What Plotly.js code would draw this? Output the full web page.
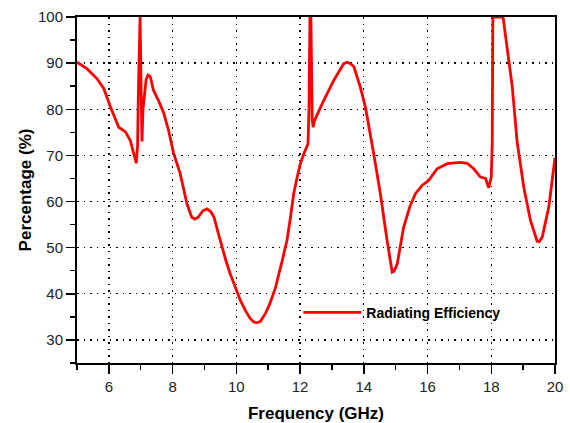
<!DOCTYPE html>
<html>
<head>
<meta charset="utf-8">
<script src="https://cdn.plot.ly/plotly-3.0.1.min.js"></script>
<style>html,body{margin:0;padding:0;background:#fff;}#chart{width:570px;height:423px;}</style>
</head>
<body>
<div id="chart"></div>
<script>
const freq = [5.00,5.31,5.63,5.84,6.05,6.31,6.52,6.67,6.86,6.90,6.93,6.96,6.98,7.01,7.04,7.07,7.11,7.17,7.23,7.30,7.40,7.55,7.72,7.87,8.03,8.24,8.45,8.60,8.70,8.80,8.95,9.08,9.20,9.30,9.42,9.55,9.68,9.81,9.97,10.13,10.29,10.44,10.55,10.63,10.75,10.91,11.05,11.23,11.44,11.59,11.70,11.80,11.91,12.01,12.12,12.25,12.28,12.31,12.34,12.36,12.38,12.41,12.45,12.74,13.06,13.37,13.48,13.60,13.69,13.89,14.05,14.31,14.52,14.73,14.89,14.95,15.05,15.25,15.45,15.62,15.83,16.04,16.30,16.62,17.03,17.24,17.45,17.66,17.82,17.92,18.00,18.03,18.05,18.37,18.50,18.66,18.81,19.02,19.23,19.44,19.50,19.60,19.81,20.00];
const efficiency = [90.2,88.8,86.6,84.5,80.5,76.1,75.1,73.3,68.3,72,85,100,100,85,73,80,83,86.5,87.4,87.1,84.1,82,79.2,75.5,70.5,66.0,59.5,56.6,56.2,56.6,58.0,58.4,57.8,56.6,53.5,50.1,47,44.3,41.2,38.5,36.3,34.6,33.9,33.7,34.0,35.7,37.8,41.4,47.2,51.6,56.6,61.7,65.3,68.2,70.4,72.5,80,100,100,85,78,76.1,77.5,81.9,86.3,89.9,90.2,89.8,89.2,84.8,80.5,70.4,61.7,51.6,44.7,44.9,46.5,54.4,59,61.7,63.5,64.6,67.1,68.2,68.5,68.3,67.1,65.3,65.0,63.0,65.3,72.5,100,100,92.8,84.8,73,63.1,55.9,51.4,51.3,52.3,59,69.5];
const seriesName = "Radiating Efficiency";
const xTitle = "Frequency (GHz)";
const yTitle = "Percentage (%)";

const fontFam = "Arial, 'Liberation Sans', sans-serif";
const data = [{
  x: freq, y: efficiency, type: 'scatter', mode: 'lines', name: seriesName,
  line: {color: '#ff0000', width: 2.8}
}];
const axisCommon = {
  showline: true, linecolor: '#000', linewidth: 2, mirror: true,
  ticks: 'outside', ticklen: 9, tickwidth: 1.5, tickcolor: '#000',
  showgrid: true, gridcolor: '#000', gridwidth: 1.3, griddash: '1.5px,5px',
  zeroline: false, tickfont: {family: fontFam, size: 15, color: '#222'}
};
const layout = {
  width: 570, height: 423,
  margin: {l: 77, r: 15, t: 17, b: 60},
  paper_bgcolor: '#fff', plot_bgcolor: '#fff',
  showlegend: true,
  legend: {x: 0.463, xanchor: 'left', y: 0.145, yanchor: 'middle', bgcolor: 'rgba(0,0,0,0)',
    itemwidth: 58,
    font: {family: fontFam, size: 14, color: '#000', weight: 'bold'}},
  xaxis: Object.assign({}, axisCommon, {
    range: [5, 20], dtick: 2, tick0: 0,
    minor: {dtick: 1, ticks: 'outside', ticklen: 5, tickwidth: 1.5, tickcolor: '#000', showgrid: false},
    title: {text: '<b>' + xTitle + '</b>', font: {family: fontFam, size: 17, color: '#000'}, standoff: 14}
  }),
  yaxis: Object.assign({}, axisCommon, {
    range: [25, 100], dtick: 10, tick0: 0,
    minor: {dtick: 5, ticks: 'outside', ticklen: 5, tickwidth: 1.5, tickcolor: '#000', showgrid: false},
    title: {text: '<b>' + yTitle + '</b>', font: {family: fontFam, size: 17, color: '#000'}, standoff: 2}
  })
};
Plotly.newPlot('chart', data, layout, {displayModeBar: false, staticPlot: true});
</script>
</body>
</html>
